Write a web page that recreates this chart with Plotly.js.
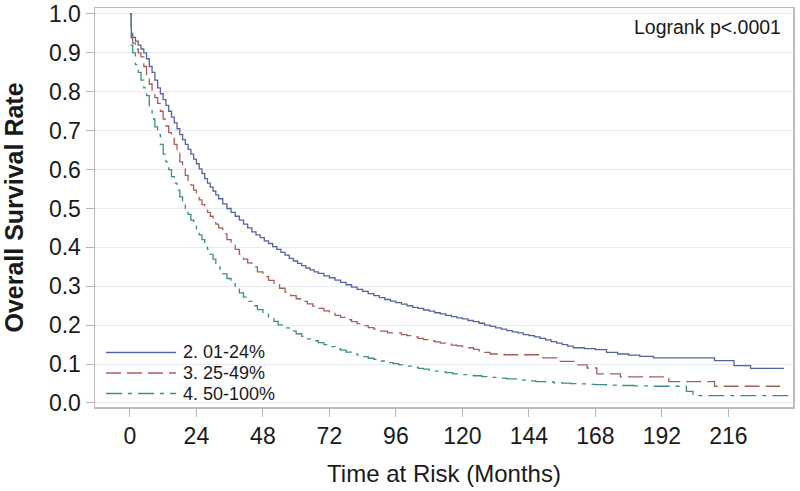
<!DOCTYPE html>
<html>
<head>
<meta charset="utf-8">
<script src="https://cdn.plot.ly/plotly-3.0.1.min.js"></script>
<style>
  html, body { margin: 0; padding: 0; background: #fff; }
  #plot { width: 800px; height: 491px; }
</style>
</head>
<body>
<div id="plot"></div>
<script>
// Kaplan-Meier estimates (months, survival)
const monthsLow = [0, 0.5, 1, 2, 3, 4, 5, 6, 7, 8, 9, 10, 11, 12, 13, 14, 15, 16, 17, 18, 19, 20, 21, 22, 23, 24, 25, 26, 27, 28, 29, 30, 31, 32, 33.5, 35, 36.5, 38, 39.5, 41, 42.5, 44, 45.5, 47, 48.5, 50, 51.5, 53, 54.5, 56, 57.5, 59, 60.5, 62, 63.5, 65, 66.5, 68, 70, 72, 74, 76, 78, 80, 82, 84, 86, 88, 90, 92, 94, 96, 98, 100, 102, 104, 106, 108, 110, 112, 114, 116, 118, 120, 122, 124, 126, 128, 130, 132, 134, 136, 138, 140, 142, 144, 146, 148, 150, 152, 154, 156, 158, 160, 164, 168, 172, 176, 180, 184, 189, 211, 218, 224, 236];
const survLow = [1.0, 0.95, 0.94, 0.93, 0.92, 0.91, 0.9, 0.885, 0.865, 0.85, 0.83, 0.81, 0.795, 0.78, 0.765, 0.75, 0.735, 0.72, 0.705, 0.69, 0.677, 0.665, 0.652, 0.64, 0.627, 0.615, 0.602, 0.59, 0.577, 0.565, 0.555, 0.545, 0.535, 0.525, 0.512, 0.5, 0.49, 0.48, 0.47, 0.46, 0.45, 0.44, 0.432, 0.425, 0.417, 0.41, 0.402, 0.395, 0.387, 0.38, 0.372, 0.365, 0.359, 0.353, 0.347, 0.342, 0.337, 0.333, 0.327, 0.322, 0.316, 0.31, 0.304, 0.298, 0.292, 0.287, 0.281, 0.276, 0.271, 0.266, 0.262, 0.258, 0.254, 0.25, 0.246, 0.243, 0.239, 0.236, 0.232, 0.229, 0.225, 0.222, 0.219, 0.216, 0.212, 0.209, 0.205, 0.2, 0.197, 0.193, 0.19, 0.186, 0.183, 0.18, 0.176, 0.173, 0.17, 0.166, 0.162, 0.158, 0.154, 0.15, 0.146, 0.142, 0.14, 0.137, 0.13, 0.126, 0.123, 0.12, 0.116, 0.109, 0.096, 0.089, 0.089];

const monthsMid = [0, 0.5, 1, 2, 3, 4, 5, 6, 7, 8, 9, 10, 11, 12, 13, 14, 15, 16, 17, 18, 19, 20, 21, 22, 23, 24, 25, 26, 27, 28, 29, 30, 31, 32, 33.5, 35, 36.5, 38, 39.5, 41, 42.5, 44, 46, 48, 50, 52, 54, 56, 58, 60, 62, 64, 66, 68, 70, 72, 74, 76, 78, 80, 82, 84, 86, 88, 90.5, 93, 98, 100, 102, 104, 106, 108, 110, 112, 114, 116, 118, 120, 122, 124, 126, 128, 130, 135, 149, 154, 161, 165, 168.5, 177, 194.5, 211, 234.6];
const survMid = [1.0, 0.94, 0.925, 0.91, 0.9, 0.89, 0.865, 0.84, 0.82, 0.8, 0.785, 0.77, 0.75, 0.73, 0.712, 0.695, 0.68, 0.665, 0.642, 0.62, 0.602, 0.585, 0.572, 0.56, 0.547, 0.535, 0.522, 0.51, 0.5, 0.49, 0.48, 0.47, 0.46, 0.45, 0.435, 0.42, 0.407, 0.395, 0.382, 0.37, 0.36, 0.35, 0.337, 0.325, 0.315, 0.305, 0.295, 0.285, 0.276, 0.268, 0.261, 0.255, 0.249, 0.243, 0.237, 0.231, 0.225, 0.22, 0.214, 0.209, 0.204, 0.199, 0.194, 0.19, 0.185, 0.18, 0.176, 0.173, 0.17, 0.166, 0.163, 0.16, 0.157, 0.154, 0.152, 0.149, 0.147, 0.145, 0.142, 0.138, 0.134, 0.13, 0.126, 0.124, 0.116, 0.107, 0.098, 0.09, 0.075, 0.067, 0.055, 0.043, 0.043];

const monthsHigh = [0, 0.5, 1, 2, 3, 4, 5, 6, 7, 8, 9, 10, 11, 12, 13, 14, 15, 16, 17, 18, 19, 20, 21, 22, 23, 24, 25, 26, 27, 28, 29, 30, 31, 32.5, 33.5, 35, 36.5, 38, 39.5, 41, 42.5, 44, 46, 48, 50, 52, 53.5, 55, 57.5, 60, 62, 64, 66, 68, 70, 72, 74, 76, 78, 80, 82, 84, 86, 88, 90.5, 93, 95, 97, 99.5, 102, 104, 106, 108, 110, 112, 114, 116.5, 119, 121.5, 124, 127, 130, 133, 136, 139.5, 143, 146.5, 150, 153, 156, 159, 162, 165, 168, 172, 176, 182, 188, 200.8, 203.2, 237.6];
const survHigh = [1.0, 0.92, 0.9, 0.87, 0.85, 0.83, 0.81, 0.79, 0.76, 0.73, 0.71, 0.69, 0.665, 0.64, 0.62, 0.6, 0.582, 0.565, 0.547, 0.53, 0.515, 0.5, 0.485, 0.47, 0.457, 0.445, 0.432, 0.42, 0.407, 0.395, 0.382, 0.37, 0.357, 0.345, 0.332, 0.32, 0.307, 0.295, 0.283, 0.272, 0.261, 0.25, 0.24, 0.231, 0.22, 0.21, 0.201, 0.193, 0.185, 0.178, 0.171, 0.165, 0.16, 0.155, 0.15, 0.145, 0.14, 0.136, 0.131, 0.127, 0.123, 0.119, 0.115, 0.112, 0.108, 0.104, 0.101, 0.098, 0.095, 0.092, 0.089, 0.087, 0.084, 0.082, 0.08, 0.078, 0.075, 0.073, 0.071, 0.07, 0.068, 0.066, 0.064, 0.062, 0.059, 0.057, 0.055, 0.054, 0.052, 0.051, 0.05, 0.049, 0.048, 0.047, 0.046, 0.045, 0.044, 0.043, 0.03, 0.019, 0.019];

const groupNames = ["2. 01-24%", "3. 25-49%", "4. 50-100%"];
const monthTicks = [0, 24, 48, 72, 96, 120, 144, 168, 192, 216];

const colors = ["#55649f", "#a85f5a", "#3a8f86"];
const dashes = ["solid", "15px,6px", "16px,6px,4px,6px"];

const xs = [monthsLow, monthsMid, monthsHigh];
const ys = [survLow, survMid, survHigh];

const traces = groupNames.map((name, i) => ({
  x: xs[i],
  y: ys[i],
  name: name,
  mode: "lines",
  line: { shape: "hv", color: colors[i], width: 1.3, dash: dashes[i] },
  showlegend: false,
  hoverinfo: "skip",
}));

// hand-made legend so rows sit as tight as in the picture
const legendY = [0.1366, 0.0852, 0.0338];
const shapes = groupNames.map((n, i) => ({
  type: "line",
  xref: "paper", yref: "paper",
  x0: 0.0158, x1: 0.116, y0: legendY[i], y1: legendY[i],
  line: { color: colors[i], width: 1.3, dash: dashes[i] },
}));
const annotations = groupNames.map((n, i) => ({
  text: n,
  xref: "paper", yref: "paper",
  x: 0.124, y: legendY[i],
  xanchor: "left", yanchor: "middle",
  showarrow: false,
  borderpad: 0,
  font: { size: 18, color: "#1a1a1a" },
}));
annotations.push({
  text: "Logrank p<.0001",
  xref: "paper", yref: "paper",
  x: 0.9857, y: 0.952,
  xanchor: "right", yanchor: "middle",
  showarrow: false,
  font: { size: 19.5, color: "#1a1a1a" },
});

const layout = {
  width: 800,
  height: 491,
  margin: { l: 95, r: 7, t: 8, b: 84 },
  paper_bgcolor: "#fff",
  plot_bgcolor: "#fff",
  font: { family: "Liberation Sans, Arial, sans-serif", color: "#1a1a1a" },
  xaxis: {
    range: [-12.6, 239.3],
    tickvals: monthTicks,
    ticks: "outside",
    ticklen: 8,
    tickcolor: "#b5b5b5",
    showline: true,
    mirror: true,
    linecolor: "#bdbdbd",
    linewidth: 1.5,
    showgrid: false,
    zeroline: false,
    tickfont: { size: 23 },
    title: { text: "Time at Risk (Months)", font: { size: 24 }, standoff: 17 },
  },
  yaxis: {
    range: [-0.0103, 1.0154],
    dtick: 0.1,
    tick0: 0,
    tickformat: ".1f",
    ticks: "outside",
    ticklen: 8,
    tickcolor: "#b5b5b5",
    showline: true,
    mirror: true,
    linecolor: "#bdbdbd",
    linewidth: 1.5,
    showgrid: true,
    gridcolor: "#e6ecf0",
    zeroline: false,
    tickfont: { size: 23 },
    title: { text: "<b>Overall Survival Rate</b>", font: { size: 25 }, standoff: 22 },
  },
  shapes: shapes,
  annotations: annotations,
};

Plotly.newPlot("plot", traces, layout, { displayModeBar: false, staticPlot: true });
</script>
</body>
</html>
